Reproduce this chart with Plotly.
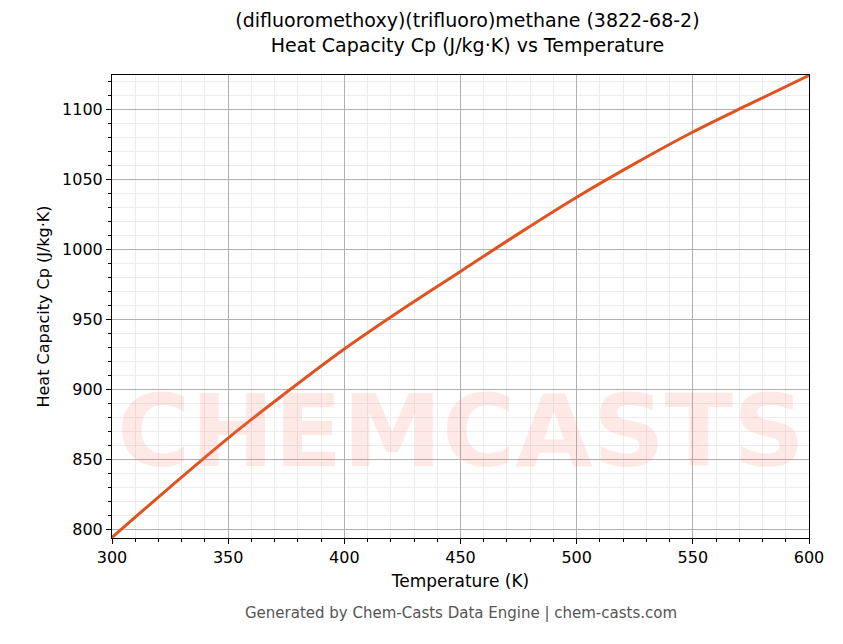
import plotly.graph_objects as go

temps = [300, 325, 350, 375, 400, 425, 450, 475, 500, 525, 550, 575, 600]
cp = [794, 830, 865, 897.5, 928.6, 957, 984, 1011, 1037, 1061, 1083.6, 1104, 1124]

fig = go.Figure()
fig.add_trace(go.Scatter(x=temps, y=cp, mode="lines", line=dict(color="#E0531F", width=3, shape="spline"), showlegend=False))
fig.add_annotation(text="<b>CHEMCASTS</b>", x=0.5, y=0.1, xref="paper", yref="paper", showarrow=False,
                   font=dict(size=100, color="rgba(255,120,100,0.16)", family="DejaVu Sans"))
ax = dict(showline=True, linecolor="black", mirror=True, ticks="outside", tickcolor="black",
          gridcolor="#b0b0b0", gridwidth=0.8, zeroline=False,
          minor=dict(ticks="outside", tickcolor="black", ticklen=3, showgrid=True, gridcolor="#ececec", gridwidth=0.5),
          tickfont=dict(size=16, color="black"))
fig.update_xaxes(**ax, range=[300, 600], dtick=50, minor_dtick=10,
                 title=dict(text="Temperature (K)", font=dict(size=17, color="black"), standoff=8))
fig.update_yaxes(**ax, range=[793.6, 1124.3], dtick=50, minor_dtick=10,
                 title=dict(text="Heat Capacity Cp (J/kg·K)", font=dict(size=16, color="black"), standoff=8))
fig.update_layout(width=843, height=644, plot_bgcolor="white", paper_bgcolor="white",
                  font=dict(family="DejaVu Sans"),
                  margin=dict(l=104, r=42, t=67, b=114),
                  title=dict(text="(difluoromethoxy)(trifluoro)methane (3822-68-2)<br>Heat Capacity Cp (J/kg·K) vs Temperature",
                             x=0.545, xanchor="center", y=0.97, yanchor="top", font=dict(size=19, color="black")))
fig.add_annotation(text="Generated by Chem-Casts Data Engine | chem-casts.com", x=0.5, y=-0.185, xref="paper", yref="paper",
                   showarrow=False, font=dict(size=15, color="#555"))
fig.write_html("out.html")
